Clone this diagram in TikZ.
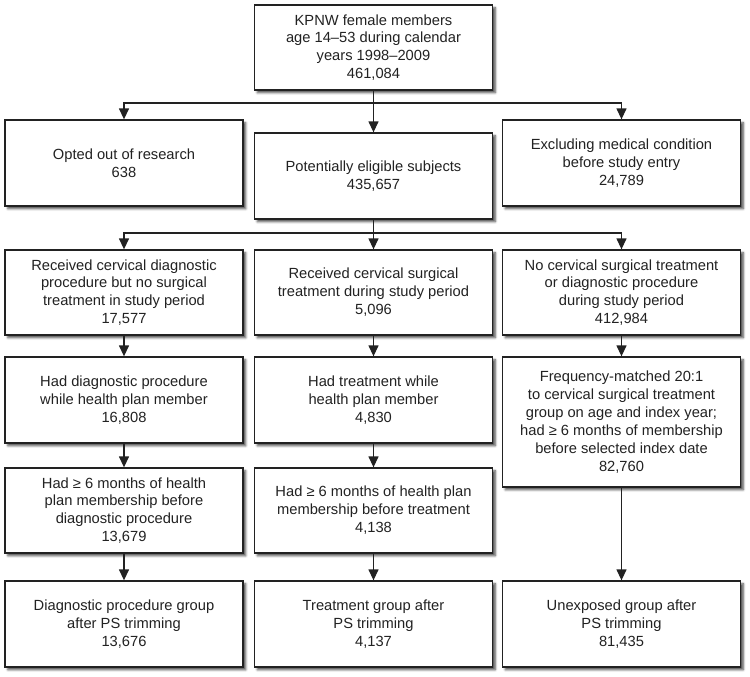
\documentclass[tikz,border=0pt]{standalone}
\usepackage{fontspec}
\setmainfont{Liberation Sans}
\usetikzlibrary{arrows.meta,shadows.blur}
\definecolor{ink}{HTML}{222222}
\tikzset{
  box/.style={draw=ink, line width=1.3pt, fill=white, text=ink, align=center,
    minimum width=238pt, minimum height=86pt, inner sep=2pt,
    font=\fontsize{14.7}{17.9}\selectfont,
    blur shadow={shadow xshift=2.8pt, shadow yshift=-2.8pt, shadow blur radius=2.2pt, shadow opacity=70}},
  arr/.style={draw=ink, line width=1.3pt, -{Triangle[width=10pt,length=11pt]}},
  ln/.style={draw=ink, line width=1.3pt}
}
\begin{document}
\begin{tikzpicture}[x=1pt,y=1pt]
\useasboundingbox (0,0) rectangle (750,-677);
% row 1
\node[box, minimum height=85pt] (top) at (373.5,-47.5) {KPNW female members\\age 14--53 during calendar\\years 1998--2009\\461,084};
% row 2
\node[box] (opt) at (124,-163) {Opted out of research\\638};
\node[box] (pot) at (373.5,-176) {Potentially eligible subjects\\435,657};
\node[box] (exc) at (621.5,-163) {Excluding medical condition\\before study entry\\24,789};
% row 3
\node[box, minimum height=85pt] (a3) at (124,-292.5) {Received cervical diagnostic\\procedure but no surgical\\treatment in study period\\17,577};
\node[box, minimum height=85pt] (b3) at (373.5,-292.5) {Received cervical surgical\\treatment during study period\\5,096};
\node[box, minimum height=85pt] (c3) at (621.5,-292.5) {No cervical surgical treatment\\or diagnostic procedure\\during study period\\412,984};
% row 4
\node[box] (a4) at (124,-400) {Had diagnostic procedure\\while health plan member\\16,808};
\node[box] (b4) at (373.5,-400) {Had treatment while\\health plan member\\4,830};
\node[box, minimum height=130pt] (c4) at (621.5,-422) {Frequency-matched 20:1\\to cervical surgical treatment\\group on age and index year;\\had ≥ 6 months of membership\\before selected index date\\82,760};
% row 5
\node[box, minimum height=85pt] (a5) at (124,-510.5) {Had ≥ 6 months of health\\plan membership before\\diagnostic procedure\\13,679};
\node[box, minimum height=85pt] (b5) at (373.5,-510.5) {Had ≥ 6 months of health plan\\membership before treatment\\4,138};
% row 6
\node[box, minimum height=86pt] (a6) at (124,-624) {Diagnostic procedure group\\after PS trimming\\13,676};
\node[box, minimum height=86pt] (b6) at (373.5,-624) {Treatment group after\\PS trimming\\4,137};
\node[box, minimum height=86pt] (c6) at (621.5,-624) {Unexposed group after\\PS trimming\\81,435};
% junctions
\coordinate (j1) at (373.5,-103);
\coordinate (j2) at (373.5,-233);
% connectors
\draw[arr] (top.south) -- (pot.north);
\draw[arr] (j1) -| (opt.north);
\draw[arr] (j1) -| (exc.north);
\draw[ln] (pot.south) -- (j2);
\draw[arr] (j2) -- (b3.north);
\draw[arr] (j2) -| (a3.north);
\draw[arr] (j2) -| (c3.north);
\draw[arr] (a3) -- (a4);
\draw[arr] (b3) -- (b4);
\draw[arr] (c3.south) -- (c4.north);
\draw[arr] (a4) -- (a5);
\draw[arr] (b4) -- (b5);
\draw[arr] (a5) -- (a6);
\draw[arr] (b5) -- (b6);
\draw[arr] (c4.south) -- (c6.north);
\end{tikzpicture}
\end{document}
